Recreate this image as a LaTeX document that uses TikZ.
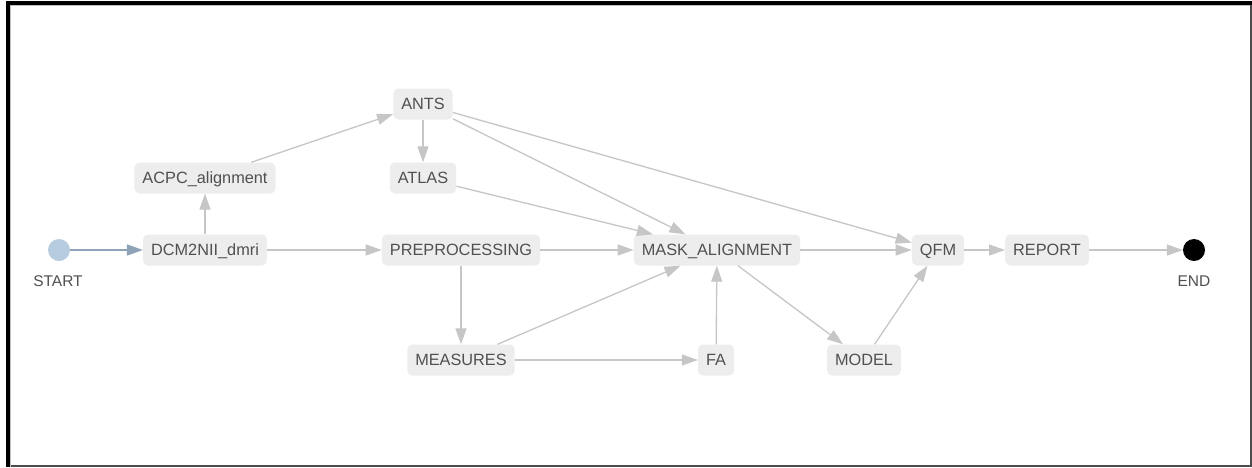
\documentclass[tikz,border=0pt]{standalone}
\usepackage{fontspec}
\setmainfont{Liberation Sans}
\usetikzlibrary{arrows.meta}
\definecolor{boxfill}{HTML}{EDEDED}
\definecolor{txt}{HTML}{505050}
\definecolor{edge}{HTML}{C6C6C6}
\definecolor{startc}{HTML}{B8CCE0}
\definecolor{startedge}{HTML}{8FA3B8}
\tikzset{
  task/.style={rectangle, rounded corners=5pt, fill=boxfill, text=txt,
    font=\fontsize{16.3}{19}\selectfont, inner xsep=8pt, inner ysep=0pt,
    text height=11.8pt, text depth=0.6pt, minimum height=31pt},
  flow/.style={draw=edge, line width=1.3pt, -{Triangle[length=16pt,width=11pt]}},
  lbl/.style={text=txt, font=\fontsize{15.5}{18}\selectfont},
}
\begin{document}
\begin{tikzpicture}[x=1pt,y=-1pt]
\useasboundingbox (0,0) rectangle (1252,467);
% frame
\fill[white] (0,0) rectangle (1252,467);
\fill[black] (6,1) rectangle (10,467);
\fill[black] (6,1) rectangle (1252,5);
\fill[black!70] (1250,5) rectangle (1252,467);
\fill[black!70] (10,465) rectangle (1252,467);
\draw[black!25, line width=0.6pt] (10.5,467) -- (10.5,5.5) -- (1250,5.5);
% nodes
\node[circle, fill=startc, minimum size=22pt, inner sep=0pt] (start) at (59,250) {};
\node[lbl] (startl) at (58,281) {START};
\node[circle, fill=black, minimum size=22pt, inner sep=0pt] (end) at (1194,250) {};
\node[lbl] (endl) at (1194,281) {END};
\node[task] (dcm) at (205,250) {DCM2NII\_dmri};
\node[task] (acpc) at (205,178) {ACPC\_alignment};
\node[task] (ants) at (423,104) {ANTS};
\node[task] (atlas) at (423,178) {ATLAS};
\node[task] (pre) at (461,250) {PREPROCESSING};
\node[task] (mask) at (717,250) {MASK\_ALIGNMENT};
\node[task] (meas) at (461,360) {MEASURES};
\node[task] (fa) at (716,360) {FA};
\node[task] (model) at (864,360) {MODEL};
\node[task] (qfm) at (938,250) {QFM};
\node[task] (rep) at (1047,250) {REPORT};
% edges
\draw[flow, draw=startedge, color=startedge] (start) -- (dcm);
\draw[flow] (dcm) -- (acpc);
\draw[flow] (acpc) -- (ants);
\draw[flow] (ants) -- (atlas);
\draw[flow] (ants) -- (mask);
\draw[flow] (ants) -- (qfm);
\draw[flow] (atlas) -- (mask);
\draw[flow] (dcm) -- (pre);
\draw[flow] (pre) -- (mask);
\draw[flow] (pre) -- (meas);
\draw[flow] (meas) -- (mask);
\draw[flow] (meas) -- (fa);
\draw[flow] (fa) -- (mask);
\draw[flow] (mask) -- (qfm);
\draw[flow] (mask) -- (model);
\draw[flow] (model) -- (qfm);
\draw[flow] (qfm) -- (rep);
\draw[flow] (rep) -- (end);
\end{tikzpicture}
\end{document}
